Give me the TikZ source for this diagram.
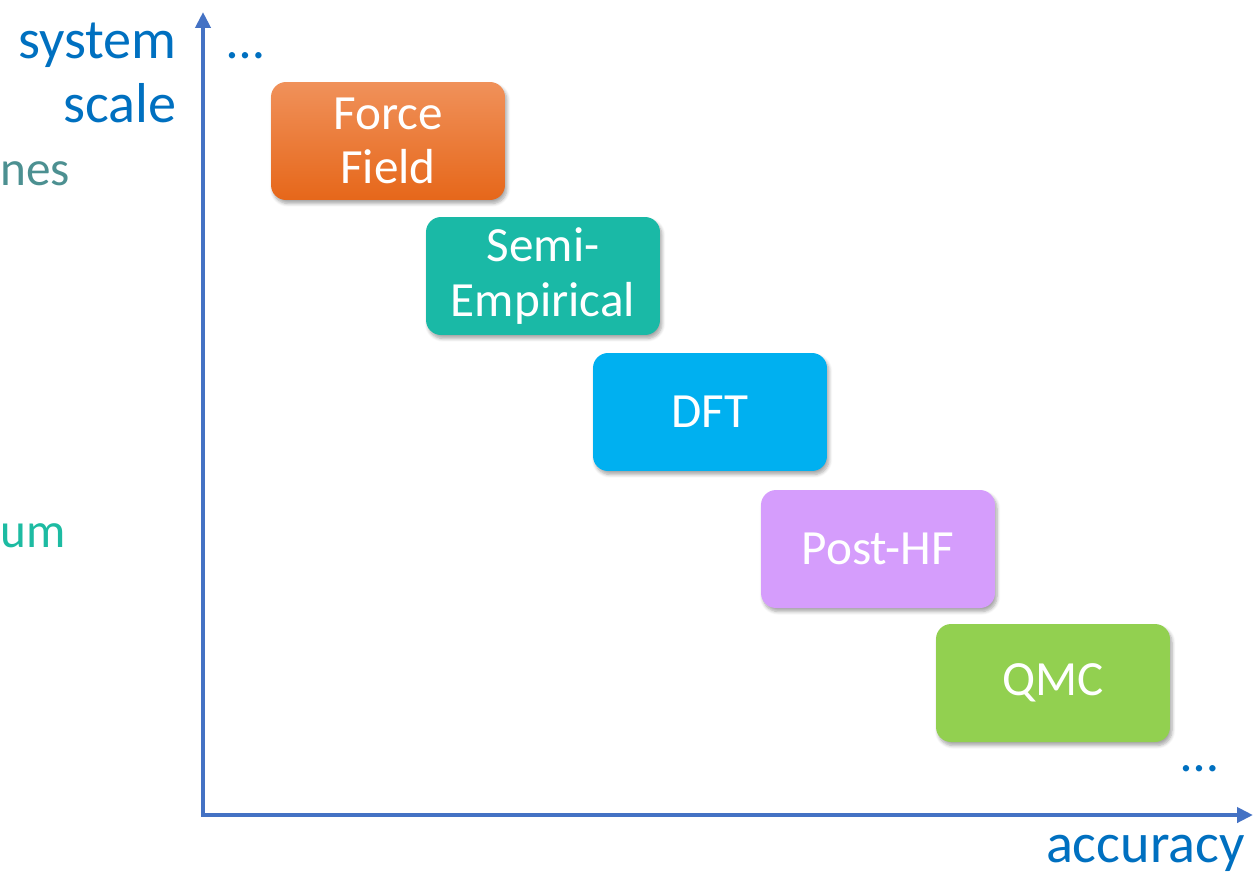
\documentclass[tikz,border=0pt]{standalone}
\usepackage{fontspec}
\setmainfont{Carlito}
\usetikzlibrary{arrows.meta,shadows.blur}

\definecolor{axisblue}{HTML}{4472C4}
\definecolor{labelblue}{HTML}{0070C0}
\definecolor{ffTop}{HTML}{F0915A}
\definecolor{ffMid}{HTML}{F37C2C}
\definecolor{ffBot}{HTML}{E6671A}
\definecolor{semiteal}{HTML}{1AB9A6}
\definecolor{dftblue}{HTML}{00B0F0}
\definecolor{hfviolet}{HTML}{D59DFC}
\definecolor{qmcgreen}{HTML}{92D050}
\definecolor{nesgray}{HTML}{4C9091}
\definecolor{umteal}{HTML}{1DBBA2}

\begin{document}
\begin{tikzpicture}[x=0.02cm, y=-0.02cm,
    method/.style={rounded corners=0.3cm, minimum width=4.68cm, minimum height=2.36cm,
      text=white, align=center, font=\fontsize{28}{30.5}\selectfont,
      blur shadow={shadow xshift=0.04cm, shadow yshift=-0.07cm, shadow blur steps=6, shadow opacity=35}},
    axislabel/.style={inner sep=0pt, text=labelblue, font=\fontsize{32}{36}\selectfont}]
    \useasboundingbox (0,0) rectangle (1253,876);

    % axes
    \coordinate (O) at (203,815);
    \coordinate (Y) at (203,12);
    \coordinate (X) at (1253,815);
    \draw[axisblue, line width=2.3pt, {Triangle[length=0.32cm,width=0.3cm]}-{Triangle[length=0.32cm,width=0.3cm]}] (Y) -- (O) -- (X);

    \node[axislabel, anchor=base east] (sys) at (177,58) {system};
    \node[axislabel, anchor=base east] (scale) at (177,122) {scale};
    \node[axislabel, anchor=base east] (acc) at (1245,862) {accuracy};
    \node[axislabel, font=\fontsize{30}{34}\selectfont] (dotsT) at (246,56) {…};
    \node[axislabel, font=\fontsize{30}{34}\selectfont] (dotsB) at (1200,769) {…};

    % cut-off words at the left margin
    \node[inner sep=0pt, anchor=base west, text=nesgray, font=\fontsize{28}{32}\selectfont] (nes) at (0,185) {nes};
    \node[inner sep=0pt, anchor=base west, text=umteal, font=\fontsize{28}{32}\selectfont] (um) at (0,547) {um};

    % methods
    \node[method, top color=ffTop, middle color=ffMid, bottom color=ffBot] (FF) at (388,141) {Force\\Field};
    \node[method, fill=semiteal, font=\fontsize{28}{31.5}\selectfont] (SE) at (543,276) {Semi-\\Empirical};
    \node[method, fill=dftblue] (DFT) at (710,412) {DFT};
    \node[method, fill=hfviolet] (PHF) at (878,549) {Post-HF};
    \node[method, fill=qmcgreen] (QMC) at (1053,683) {QMC};
\end{tikzpicture}
\end{document}
